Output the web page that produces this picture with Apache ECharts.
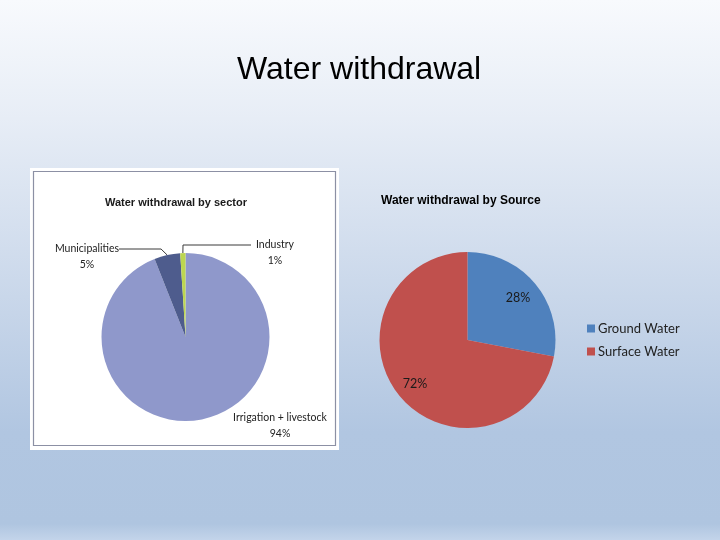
<!DOCTYPE html>
<html>
<head>
<meta charset="utf-8">
<script src="https://cdn.jsdelivr.net/npm/echarts@6/dist/echarts.min.js"></script>
<style>
  html, body { margin: 0; padding: 0; }
  body {
    width: 720px; height: 540px; overflow: hidden;
    background: linear-gradient(to bottom, #f8fafd 0%, #e7edf6 22%, #c9d7ea 55%, #b1c6e1 80%, #afc5e0 97%, #c3d4ea 100%);
  }
  #chart { width: 720px; height: 540px; }
</style>
</head>
<body>
<div id="chart"></div>
<script>
// ---- data ----
var sectorNames = ['Irrigation + livestock', 'Municipalities', 'Industry'];
var sectorValues = [94, 5, 1];
var sectorColors = ['#8f98cb', '#4e5c8d', '#bcd650'];

var sourceNames = ['Ground Water', 'Surface Water'];
var sourceValues = [28, 72];
var sourceColors = ['#4f81bd', '#c0504d'];

var mainTitle = 'Water withdrawal';
var sectorTitle = 'Water withdrawal by sector';
var sourceTitle = 'Water withdrawal by Source';

// ---- layout constants ----
var sectorCenter = [185.5, 337], sectorR = 84;
var sourceCenter = [467.5, 340], sourceR = 88;
var sectorLabelPos = [[280, 426], [87, 249], [275, 245]];
var sectorLeaderLen = [0, 42, 68];

var chart = echarts.init(document.getElementById('chart'), null, { renderer: 'canvas' });

var sectorData = sectorNames.map(function (n, i) {
  return { name: n, value: sectorValues[i], itemStyle: { color: sectorColors[i] },
           labelLine: { show: i !== 0, length2: sectorLeaderLen[i] },
           label: { formatter: i === 0 ? '{b}\n{d}%' : '\n{b}\n{d}%' } };
});
var sourceData = sourceNames.map(function (n, i) {
  return { name: n, value: sourceValues[i], itemStyle: { color: sourceColors[i] } };
});

var sourceTotal = sourceValues.reduce(function (a, b) { return a + b; }, 0);

chart.setOption({
  backgroundColor: 'transparent',
  animation: false,
  title: [
    { text: mainTitle, left: 237, top: 54, padding: 0,
      textStyle: { fontFamily: 'Liberation Sans, Arial', fontSize: 32, fontWeight: 'normal', color: '#000' } },
    { text: sectorTitle, left: 105, top: 197, padding: 0,
      textStyle: { fontFamily: 'Liberation Sans, Arial', fontSize: 11, fontWeight: 'bold', color: '#1a1a1a' } },
    { text: sourceTitle, left: 381, top: 195, padding: 0,
      textStyle: { fontFamily: 'Liberation Sans, Arial', fontSize: 12, fontWeight: 'bold', color: '#000' } }
  ],
  graphic: [
    { type: 'rect', z: -10, shape: { x: 30, y: 168, width: 309, height: 282 },
      style: { fill: '#ffffff' } },
    { type: 'rect', z: -9, shape: { x: 33.5, y: 171.5, width: 302, height: 274 },
      style: { fill: '#ffffff', stroke: '#8c90a4', lineWidth: 1.2 } }
  ],
  legend: {
    orient: 'vertical', left: 582, top: 317,
    itemWidth: 8, itemHeight: 8, itemGap: 10,
    icon: 'rect',
    data: sourceNames,
    textStyle: { fontFamily: 'Lato, Noto Sans', fontSize: 13, color: '#222', padding: [0, 0, 0, -2] }
  },
  series: [
    {
      type: 'pie', name: 'sector', center: sectorCenter, radius: [0, sectorR],
      startAngle: 90, clockwise: true, silent: true,
      legendHoverLink: false,
      data: sectorData,
      label: { show: true, fontFamily: 'Lato, Noto Sans', fontSize: 10.5, overflow: 'none',
               lineHeight: 16, color: '#222', align: 'center', padding: [0, 5, 0, 5] },
      labelLine: { show: true, length: 6, length2: 30, lineStyle: { color: '#3a3a3a', width: 1 } },
      labelLayout: function (p) {
        var pos = sectorLabelPos[p.dataIndex];
        return { x: pos[0], y: pos[1], align: 'center', verticalAlign: 'middle' };
      }
    },
    {
      type: 'pie', name: 'source', center: sourceCenter, radius: [0, sourceR],
      startAngle: 90, clockwise: true, silent: true,
      data: sourceData,
      label: { show: true, position: 'inside', formatter: '{d}%', fontFamily: 'Lato, Noto Sans',
               fontSize: 12.5, color: '#1a1a1a' },
      labelLine: { show: false },
      labelLayout: function (p) {
        var before = 0;
        for (var i = 0; i < p.dataIndex; i++) before += sourceValues[i];
        var mid = (before + sourceValues[p.dataIndex] / 2) / sourceTotal * Math.PI * 2;
        var rr = sourceR * 0.76;
        return { x: sourceCenter[0] + rr * Math.sin(mid) - 1, y: sourceCenter[1] - rr * Math.cos(mid) + 1,
                 align: 'center', verticalAlign: 'middle' };
      }
    }
  ]
});
</script>
</body>
</html>
